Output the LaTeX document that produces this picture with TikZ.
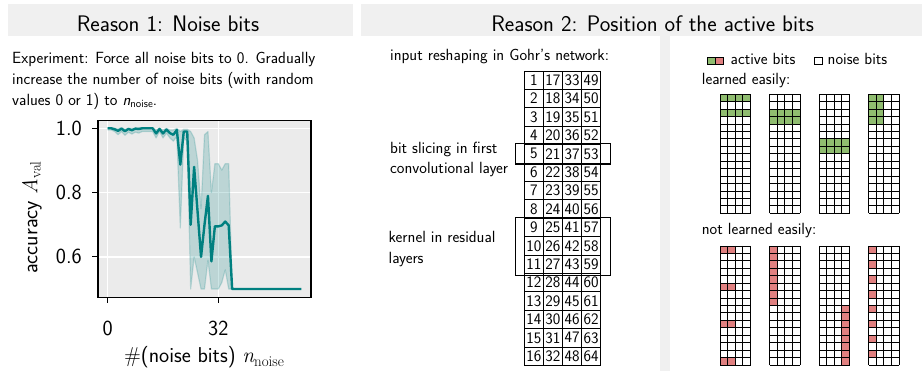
\documentclass[tikz,border=0pt]{standalone}
\usepackage{fontspec}
\definecolor{hdrgray}{RGB}{240,240,240}
\definecolor{plotbg}{RGB}{235,235,235}
\definecolor{tealc}{RGB}{0,128,128}
\definecolor{actgreen}{RGB}{143,188,111}
\definecolor{actred}{RGB}{224,128,128}
\newcommand\bitgrid[4]{%
  \fill[white] (#1,#2) rectangle ++(30.5,119);
  \foreach \c/\r in {#4} {\fill[#3] ({#1+(\c-1)*7.625},{#2+(\r-1)*7.4375}) rectangle ++(7.625,7.4375);}
  \foreach \i in {0,...,4} {\draw[gridln] ({#1+\i*7.625},#2) -- ++(0,119);}
  \foreach \j in {0,...,16} {\draw[gridln] (#1,{#2+\j*7.4375}) -- ++(30.5,0);}
}
\tikzset{
  txt/.style={font=\sffamily\fontsize{16.2}{21}\selectfont, inner sep=0},
  hdr/.style={font=\sffamily\fontsize{22.5}{26}\selectfont, inner sep=0},
  tick/.style={font=\sffamily\fontsize{21.5}{25}\selectfont, inner sep=0},
  cell/.style={draw=black, line width=0.8pt, minimum width=19.1pt, minimum height=18.4pt, inner sep=0, font=\sffamily\fontsize{16}{16}\selectfont},
  hlbox/.style={draw=black, line width=1.4pt},
  gridln/.style={draw=black, line width=0.9pt},
  bar/.style={fill=hdrgray},
}
\begin{document}
\begin{tikzpicture}[x=1pt,y=-1pt]
\useasboundingbox (0,0) rectangle (922,371);
% header bars
\fill[bar] (8,4) rectangle (353,36);
\fill[bar] (361,4) rectangle (922,36);
\fill[bar] (660,36) rectangle (670,371);
\node[hdr, anchor=base] (h1) at (168,31.7) {Reason 1: Noise bits};
\node[hdr, anchor=base] (h2) at (652.6,31.7) {Reason 2: Position of the active bits};
% experiment text
\node[txt, anchor=base west] (e1) at (12,63.3) {Experiment: Force all noise bits to 0. Gradually};
\node[txt, anchor=base west] (e2) at (12,84.3) {increase the number of noise bits (with random};
\node[txt, anchor=base west] (e3) at (12,105.3) {values 0 or 1) to \textit{n}\raisebox{-2.5pt}{\fontsize{11}{11}\selectfont noise}.};
% plot
\begin{scope}[shift={(107.7pt,-449.8pt)}, x=3.457pt, y=321.5pt]
  \fill[plotbg] (-2.8,0.474) rectangle (58.8,1.0236);
  \foreach \gx in {0,32} {\draw[white, line width=1.5pt] (\gx,0.474) -- (\gx,1.0236);}
  \foreach \gy in {0.6,0.8,1.0} {\draw[white, line width=1.5pt] (-2.8,\gy) -- (58.8,\gy);}
  \begin{scope}
  \clip (-2.8,0.474) rectangle (58.8,1.0236);
  \fill[tealc, opacity=0.2] plot coordinates {(0,1.002)(1,1.002)(2,1.0)(3,0.998)(4,1.002)(5,0.997)(6,1.0)(7,0.999)(8,1.0)(9,1.0)(10,1.002)(11,1.002)(12,1.002)(13,1.002)(14,0.995)(15,1.0)(16,0.995)(17,1.0)(18,0.995)(19,0.995)(20,1.0)(21,0.99)(22,0.997)(23,0.997)(24,0.99)(25,0.97)(26,0.90)(27,0.75)(28,0.98)(29,0.99)(30,0.80)(31,0.89)(32,0.89)(33,0.87)(34,0.89)(35,0.89)(36,0.5)
    (35,0.5)(34,0.56)(33,0.52)(32,0.5)(31,0.5)(30,0.5)(29,0.59)(28,0.5)(27,0.5)(26,0.55)(25,0.6)(24,0.5)(23,0.96)(22,0.97)(21,0.69)(20,0.975)(19,0.96)(18,0.97)(17,0.985)(16,0.97)(15,0.99)(14,0.97)(13,0.99)(12,0.99)(11,0.99)(10,0.99)(9,0.985)(8,0.988)(7,0.982)(6,0.988)(5,0.978)(4,0.99)(3,0.98)(2,0.99)(1,0.995)(0,0.995)} -- cycle;
  \draw[tealc, opacity=0.2, line width=1.2pt, line join=round] plot coordinates {(0,1.002)(1,1.002)(2,1.0)(3,0.998)(4,1.002)(5,0.997)(6,1.0)(7,0.999)(8,1.0)(9,1.0)(10,1.002)(11,1.002)(12,1.002)(13,1.002)(14,0.995)(15,1.0)(16,0.995)(17,1.0)(18,0.995)(19,0.995)(20,1.0)(21,0.99)(22,0.997)(23,0.997)(24,0.99)(25,0.97)(26,0.90)(27,0.75)(28,0.98)(29,0.99)(30,0.80)(31,0.89)(32,0.89)(33,0.87)(34,0.89)(35,0.89)(36,0.5)};
  \draw[tealc, opacity=0.2, line width=1.2pt, line join=round] plot coordinates {(36,0.5)(35,0.5)(34,0.56)(33,0.52)(32,0.5)(31,0.5)(30,0.5)(29,0.59)(28,0.5)(27,0.5)(26,0.55)(25,0.6)(24,0.5)(23,0.96)(22,0.97)(21,0.69)(20,0.975)(19,0.96)(18,0.97)(17,0.985)(16,0.97)(15,0.99)(14,0.97)(13,0.99)(12,0.99)(11,0.99)(10,0.99)(9,0.985)(8,0.988)(7,0.982)(6,0.988)(5,0.978)(4,0.99)(3,0.98)(2,0.99)(1,0.995)(0,0.995)};
  \draw[tealc, line width=2.4pt, line join=round] plot coordinates {(0,1.000)(1,1.000)(2,0.997)(3,0.992)(4,0.999)(5,0.991)(6,0.998)(7,0.994)(8,0.999)(9,0.998)(10,1.000)(11,1.000)(12,1.000)(13,1.000)(14,0.984)(15,0.998)(16,0.984)(17,0.996)(18,0.985)(19,0.980)(20,0.995)(21,0.887)(22,0.990)(23,0.990)(24,0.700)(25,0.880)(26,0.740)(27,0.600)(28,0.700)(29,0.790)(30,0.586)(31,0.695)(32,0.695)(33,0.698)(34,0.710)(35,0.698)(36,0.500)(56,0.500)};
  \end{scope}
  \draw[black, line width=1.5pt] (-2.8,0.474) rectangle (58.8,1.0236);
  \foreach \gx in {0,32} {\draw[black, line width=1.2pt] (\gx,0.474) -- ++(0,-6pt);}
  \foreach \gy in {0.6,0.8,1.0} {\draw[black, line width=1.2pt] (-2.8,\gy) -- ++(-6pt,0);}
  \node[tick, anchor=east, xshift=-16pt] (yt1) at (-2.8,1.0) {1.0};
  \node[tick, anchor=east, xshift=-16pt] (yt2) at (-2.8,0.8) {0.8};
  \node[tick, anchor=east, xshift=-16pt] (yt3) at (-2.8,0.6) {0.6};
  \node[tick, anchor=base, yshift=-37.6pt] (xt1) at (0,0.474) {0};
  \node[tick, anchor=base, yshift=-37.6pt] (xt2) at (32,0.474) {32};
\end{scope}
\node[tick, anchor=base] (xl) at (204,363) {\#(noise bits) {\rmfamily\itshape n}\raisebox{-3.2pt}{\rmfamily\fontsize{15}{15}\selectfont noise}};
\node[tick, anchor=base, rotate=90] (yl) at (37.5,217.5) {accuracy {\rmfamily\itshape A}\raisebox{-3.2pt}{\rmfamily\fontsize{15}{15}\selectfont val}};
% middle: Gohr reshaping
\node[txt, anchor=base west] (m1) at (390,60.7) {input reshaping in Gohr's network:};
\foreach \c in {1,...,4} {
  \foreach \r in {1,...,16} {
    \pgfmathtruncatemacro{\num}{\r+16*(\c-1)}
    \node[cell] (t\r-\c) at ({524.3+(\c-0.5)*19.1},{71+(\r-0.5)*18.4}) {\num};
  }
}
\draw[hlbox] (515.7,143.7) rectangle (610.3,164.2);
\draw[hlbox] (515.7,217.7) rectangle (610.3,275.3);
\node[txt, anchor=base west] (m2) at (390,153.3) {bit slicing in first};
\node[txt, anchor=base west] (m3) at (390,173.3) {convolutional layer};
\node[txt, anchor=base west] (m4) at (388.5,242.7) {kernel in residual};
\node[txt, anchor=base west] (m5) at (388.5,263.3) {layers};
% right: legend
\fill[actgreen] (707.7,57) rectangle (715.3,64.5);
\fill[actred] (715.3,57) rectangle (723,64.5);
\draw[black, line width=0.8pt] (707.7,57) rectangle (715.3,64.5);
\draw[black, line width=0.8pt] (715.3,57) rectangle (723,64.5);
\draw[black, line width=0.8pt, fill=white] (814.5,57) rectangle (822,64.5);
\node[txt, anchor=base west] (l1) at (730.5,65) {active bits};
\node[txt, anchor=base west] (l2) at (827.5,65) {noise bits};
\node[txt, anchor=base west] (l3) at (701.7,85) {learned easily:};
\node[txt, anchor=base west] (l4) at (701.7,235) {not learned easily:};
% grids learned easily
\bitgrid{720}{94.3}{actgreen}{1/1,2/1,3/1,4/1,1/3,2/3,3/3,4/3}
\bitgrid{769.5}{94.3}{actgreen}{1/3,2/3,3/3,4/3,1/4,2/4,3/4,4/4}
\bitgrid{819}{94.3}{actgreen}{1/7,2/7,3/7,4/7,1/8,2/8,3/8,4/8}
\bitgrid{868.5}{94.3}{actgreen}{1/1,2/1,1/2,2/2,1/3,2/3,1/4,2/4}
% grids not learned easily
\bitgrid{720}{246}{actred}{1/1,2/1,1/6,2/6,1/11,2/11,1/16,2/16}
\bitgrid{769.5}{246}{actred}{1/1,1/2,1/3,1/4,1/5,1/6,1/7,1/8}
\bitgrid{819}{246}{actred}{4/9,4/10,4/11,4/12,4/13,4/14,4/15,4/16}
\bitgrid{868.5}{246}{actred}{1/1,1/3,1/5,1/7,1/9,1/11,1/13,1/15}
\end{tikzpicture}
\end{document}
